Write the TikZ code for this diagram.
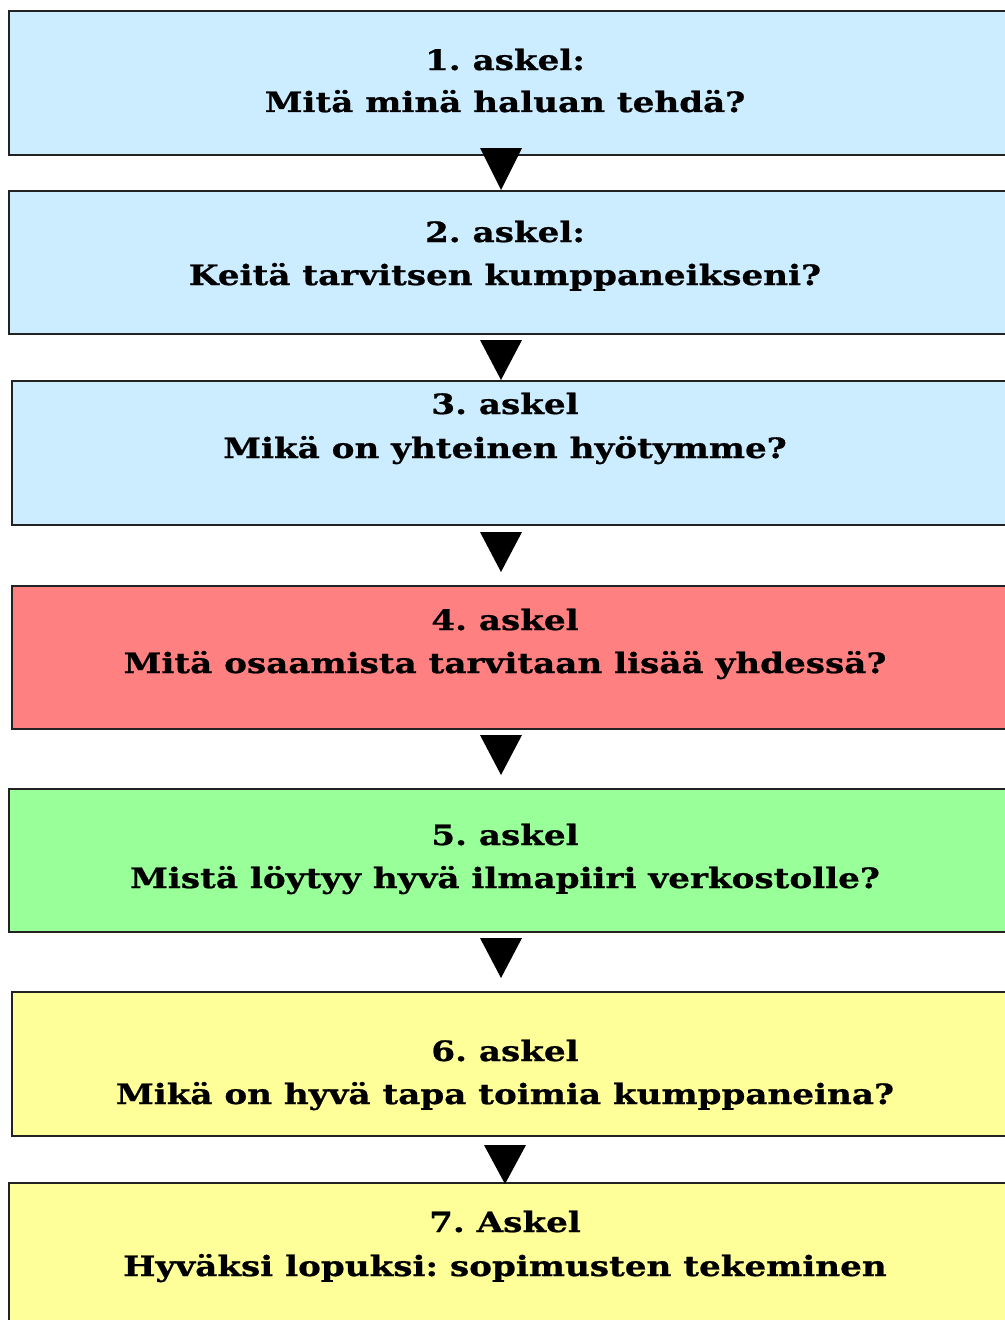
\documentclass[tikz,border=0pt]{standalone}
\usepackage{fontspec}
\setmainfont[FakeStretch=1.22,BoldFeatures={FakeStretch=1.22,FakeBold=0.8}]{DejaVu Serif}
\frenchspacing
\definecolor{cblue}{HTML}{CCECFF}
\definecolor{cred}{HTML}{FF8080}
\definecolor{cgreen}{HTML}{99FF99}
\definecolor{cyellow}{HTML}{FFFF99}
\definecolor{cborder}{HTML}{222222}
\tikzset{
  stepbox/.style={draw=cborder, line width=1.2pt, anchor=north west, inner sep=0pt,
    minimum width=1010*0.75pt},
  steptxt/.style={anchor=base, inner sep=0pt, font=\fontsize{21}{25}\selectfont\bfseries},
  tri/.style={fill=black, draw=none}
}
\begin{document}
\begin{tikzpicture}[x=0.75pt,y=-0.75pt]
\useasboundingbox[fill=white] (0,0) rectangle (1004,1320);
% boxes
\node[stepbox, fill=cblue, minimum height=144*0.75pt] (b1) at (8,10) {};
\node[stepbox, fill=cblue, minimum height=143*0.75pt] (b2) at (8,190) {};
\node[stepbox, fill=cblue, minimum height=144*0.75pt] (b3) at (11,380) {};
\node[stepbox, fill=cred, minimum height=143*0.75pt] (b4) at (11,585) {};
\node[stepbox, fill=cgreen, minimum height=143*0.75pt] (b5) at (8,788) {};
\node[stepbox, fill=cyellow, minimum height=144*0.75pt] (b6) at (11,991) {};
\node[stepbox, fill=cyellow, minimum height=160*0.75pt] (b7) at (8,1182) {};
% texts
\node[steptxt] (t1a) at (505,70) {1. askel:};
\node[steptxt] (t1b) at (505,112) {Mitä minä haluan tehdä?};
\node[steptxt] (t2a) at (505,242) {2. askel:};
\node[steptxt] (t2b) at (505,285) {Keitä tarvitsen kumppaneikseni?};
\node[steptxt] (t3a) at (505,414) {3. askel};
\node[steptxt] (t3b) at (505,458) {Mikä on yhteinen hyötymme?};
\node[steptxt] (t4a) at (505,630) {4. askel};
\node[steptxt] (t4b) at (505,673) {Mitä osaamista tarvitaan lisää yhdessä?};
\node[steptxt] (t5a) at (505,845) {5. askel};
\node[steptxt] (t5b) at (505,888) {Mistä löytyy hyvä ilmapiiri verkostolle?};
\node[steptxt] (t6a) at (505,1061) {6. askel};
\node[steptxt] (t6b) at (505,1104) {Mikä on hyvä tapa toimia kumppaneina?};
\node[steptxt] (t7a) at (505,1232) {7. Askel};
\node[steptxt] (t7b) at (505,1276) {Hyväksi lopuksi: sopimusten tekeminen};
% arrows (triangles)
\fill[tri] (480,148) -- (522,148) -- (501,190) -- cycle;
\fill[tri] (480,340) -- (522,340) -- (501,380) -- cycle;
\fill[tri] (480,532) -- (522,532) -- (501,572) -- cycle;
\fill[tri] (480,735) -- (522,735) -- (501,775) -- cycle;
\fill[tri] (480,938) -- (522,938) -- (501,978) -- cycle;
\fill[tri] (484,1145) -- (526,1145) -- (505,1184) -- cycle;
\end{tikzpicture}
\end{document}
